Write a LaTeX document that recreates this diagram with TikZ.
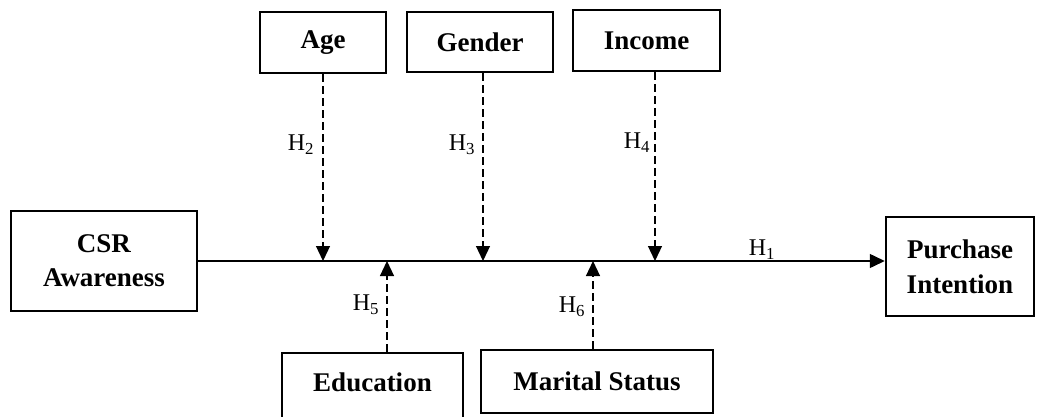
\documentclass[tikz,border=0pt]{standalone}
\usepackage{fontspec}
\setmainfont{Liberation Serif}
\usetikzlibrary{arrows.meta}
\tikzset{
  varbox/.style={draw, line width=2.5pt, inner sep=0pt, align=center,
    font=\fontsize{27}{34}\selectfont\bfseries},
  hlabel/.style={inner sep=0pt, font=\fontsize{24}{28}\selectfont},
  modarrow/.style={line width=1.2pt, dash pattern=on 8pt off 4pt,
    -{Triangle[width=14pt,length=15pt]}},
  mainarrow/.style={line width=1.5pt, -{Triangle[width=14pt,length=15pt]}}
}
\begin{document}
\begin{tikzpicture}[x=1pt,y=-1pt]
\useasboundingbox (0,0) rectangle (1042,416);
\fill[white] (0,0) rectangle (1042,416);
\begin{scope}
\clip (0,0) rectangle (1042,416);
% boxes
\node[varbox, minimum width=126pt, minimum height=61pt] (age) at (323,42.5) {Age};
\node[varbox, minimum width=146pt, minimum height=60pt] (gender) at (480,42) {Gender};
\node[varbox, minimum width=147pt, minimum height=61pt] (income) at (646.5,40.5) {Income};
\node[varbox, minimum width=186pt, minimum height=100pt] (csr) at (104,261) {CSR\\Awareness};
\node[varbox, minimum width=148pt, minimum height=99pt, font=\fontsize{27}{35}\selectfont\bfseries] (pi) at (960,266.5) {Purchase\\Intention};
\node[varbox, minimum width=181pt, minimum height=68pt] (edu) at (372.5,387) {};
\node[font=\fontsize{27}{31}\selectfont\bfseries] (edut) at (372.5,382) {Education};
\node[varbox, minimum width=232pt, minimum height=63pt] (mar) at (597,381.5) {Marital Status};
% points on main line
\coordinate (p2) at (323,261);
\coordinate (p3) at (483,261);
\coordinate (p4) at (655,261);
\coordinate (p5) at (387,261);
\coordinate (p6) at (593,261);
% main arrow
\draw[mainarrow] (csr.east) -- (csr.east -| pi.west);
% moderator arrows
\draw[modarrow] (age.south -| p2) -- (p2);
\draw[modarrow] (gender.south -| p3) -- (p3);
\draw[modarrow] (income.south -| p4) -- (p4);
\draw[modarrow] (edu.north -| p5) -- (p5);
\draw[modarrow] (mar.north -| p6) -- (p6);
% labels
\node[hlabel] (h1) at (762,250) {H\textsubscript{1}};
\node[hlabel] (h2) at (301,145) {H\textsubscript{2}};
\node[hlabel] (h3) at (462,145) {H\textsubscript{3}};
\node[hlabel] (h4) at (637,143) {H\textsubscript{4}};
\node[hlabel] (h5) at (366,305) {H\textsubscript{5}};
\node[hlabel] (h6) at (572,307) {H\textsubscript{6}};
\end{scope}
\end{tikzpicture}
\end{document}
